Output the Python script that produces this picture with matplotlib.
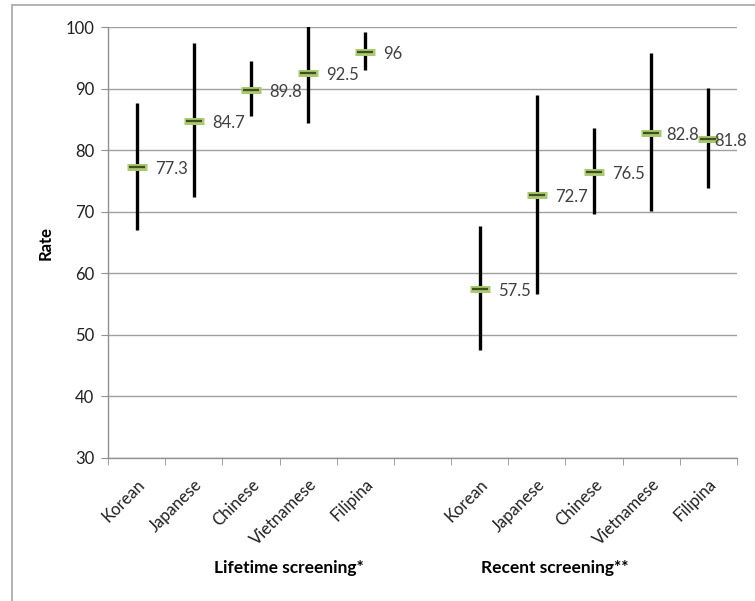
import matplotlib.pyplot as plt
from matplotlib.patches import Rectangle

plt.rcParams['font.family'] = ['Lato', 'DejaVu Sans']

# Data
groups = ["Lifetime screening*", "Recent screening**"]
categories = ["Korean", "Japanese", "Chinese", "Vietnamese", "Filipina"]

life_mean = [77.3, 84.7, 89.8, 92.5, 96]
life_lo = [67.0, 72.4, 85.5, 84.4, 93.0]
life_hi = [87.7, 97.4, 94.4, 100.5, 99.2]

recent_mean = [57.5, 72.7, 76.5, 82.8, 81.8]
recent_lo = [47.6, 56.6, 69.7, 70.1, 73.8]
recent_hi = [67.7, 89.0, 83.6, 95.7, 90.1]

fig = plt.figure(figsize=(7.55, 6.01), dpi=100)
ax = fig.add_axes([108/755, 1 - 458/601, (737 - 108)/755, (458 - 27)/601])

# chart frame (Excel style), runs off the right / bottom edge
fig.patches.append(Rectangle((12/755, -0.1), 1.2, 1 - 5/601 + 0.1, transform=fig.transFigure,
                             fill=False, edgecolor='#a6a6a6', linewidth=1.2, zorder=0))

x_life = list(range(5))
x_recent = [i + 6 for i in range(5)]

def draw_group(xs, means, lo, hi, offsets):
    ax.vlines(xs, lo, hi, color='black', linewidth=2.4, zorder=3)
    ax.plot(xs, means, linestyle='none', marker='_', markersize=14, mew=5,
            color='#a9c870', zorder=4)
    ax.plot(xs, means, linestyle='none', marker='_', markersize=12, mew=1.6,
            color='#3f4f1e', zorder=5)
    for x, m, dx in zip(xs, means, offsets):
        ax.annotate(f"{m:g}", (x, m), xytext=(dx, -1.5), textcoords='offset points',
                    ha='left', va='center', fontsize=12, color='#404040', zorder=6)

draw_group(x_life, life_mean, life_lo, life_hi, [13, 13, 13, 13, 13])
draw_group(x_recent, recent_mean, recent_lo, recent_hi, [13, 13, 13, 11, 4])

ax.set_xlim(-0.5, 10.5)
ax.set_ylim(30, 100)
ax.set_yticks(range(30, 101, 10))
ax.yaxis.grid(True, color='#a0a0a0', linewidth=1)
ax.set_axisbelow(True)

ax.set_xticks(x_life + x_recent)
ax.set_xticklabels(categories + categories, rotation=45, ha='right',
                   rotation_mode='anchor', fontsize=12, color='#202020')
ax.set_xticks([i - 0.5 for i in range(12)], minor=True)
ax.tick_params(axis='x', which='major', length=0, pad=13)
ax.tick_params(axis='x', which='minor', length=5, color='#909090', direction='out')
ax.tick_params(axis='y', length=5, color='#909090', labelsize=12, labelcolor='#202020', pad=5)

for s in ['top', 'right']:
    ax.spines[s].set_visible(False)
for s in ['left', 'bottom']:
    ax.spines[s].set_color('#909090')
    ax.spines[s].set_linewidth(1)

ax.set_ylabel("Rate", fontsize=12, fontweight='bold', labelpad=8)

fig.text(289/755, 1 - 568/601, groups[0], ha='center', va='center',
         fontsize=12.5, fontweight='bold')
fig.text(555/755, 1 - 568/601, groups[1], ha='center', va='center',
         fontsize=12.5, fontweight='bold')

fig.savefig("out.png", dpi=100)
